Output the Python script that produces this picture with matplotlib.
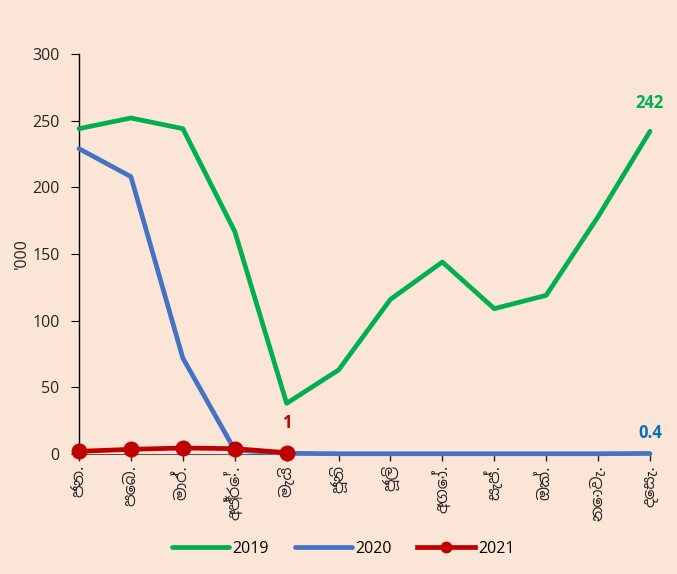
import matplotlib
matplotlib.use("Agg")
import matplotlib.pyplot as plt
from matplotlib.lines import Line2D

months = ["ජන.", "පෙබ.", "මාර්.", "අප්‍රේ.", "මැයි", "ජූනි", "ජූලි", "අගෝ.", "සැප්.", "ඔක්.", "නොවැ.", "දෙසැ."]
y2019 = [244, 252, 244, 167, 38, 63, 116, 144, 109, 119, 178, 242]
y2020 = [229, 208, 72, 3, 0.5, 0.2, 0.2, 0.2, 0.2, 0.2, 0.2, 0.4]
y2021 = [2, 3.5, 4.5, 4, 1]
yticks = [0, 50, 100, 150, 200, 250, 300]

plt.rcParams['font.family'] = ['Open Sans', 'Noto Sans Sinhala', 'DejaVu Sans']
bg = '#FBE5D6'
fig = plt.figure(figsize=(6.77, 5.74), dpi=100, facecolor=bg)
ax = fig.add_axes([79/677, 120/574, (650-79)/677, 400/574])
ax.set_facecolor(bg)

x = list(range(len(months)))
ax.plot(x, y2019, color='#00B050', lw=3.4, solid_capstyle='round', zorder=3, clip_on=False)
ax.plot(x, y2020, color='#4472C4', lw=3.4, solid_capstyle='round', zorder=3, clip_on=False)
ax.plot(x[:len(y2021)], y2021, color='#C00000', lw=3.4, marker='o', ms=10.5, zorder=4, clip_on=False)

ax.set_xlim(0, 11)
ax.set_ylim(0, 300)
ax.set_yticks(yticks)
ax.set_xticks(x)
ax.set_xticklabels(months, rotation=90, fontsize=11.5, color='#262626',
                   family=['Noto Sans Sinhala', 'Open Sans', 'DejaVu Sans'])
ax.tick_params(axis='y', labelsize=11.5, labelcolor='#262626', length=6, direction='out', pad=8)
ax.tick_params(axis='x', length=5, width=1, color='#262626', direction='out', pad=3)
for s in ['top', 'right']:
    ax.spines[s].set_visible(False)
ax.spines['left'].set_color('#000000')
ax.spines['bottom'].set_color('#595959')
ax.spines['left'].set_linewidth(1.0)

ax.set_ylabel("'000", fontsize=11.5, color='#262626', labelpad=2)

ax.text(11, 263, '242', color='#00B050', fontsize=12, fontweight='bold', ha='center', va='center')
ax.text(4, 23, '1', color='#C00000', fontsize=12, fontweight='bold', ha='center', va='center')
ax.text(11, 16, '0.4', color='#0070C0', fontsize=12, fontweight='bold', ha='center', va='center')

handles = [Line2D([], [], color='#00B050', lw=3.4, solid_capstyle='round'),
           Line2D([], [], color='#4472C4', lw=3.4, solid_capstyle='round'),
           Line2D([], [], color='#C00000', lw=3.4, marker='o', ms=7.5)]
fig.legend(handles, ['2019', '2020', '2021'], loc='center', bbox_to_anchor=(0.507, 0.044),
           ncol=3, frameon=False, fontsize=11.5, handlelength=3.6, handletextpad=0.2, columnspacing=1.6)

fig.savefig('out.png', dpi=100, facecolor=bg)
